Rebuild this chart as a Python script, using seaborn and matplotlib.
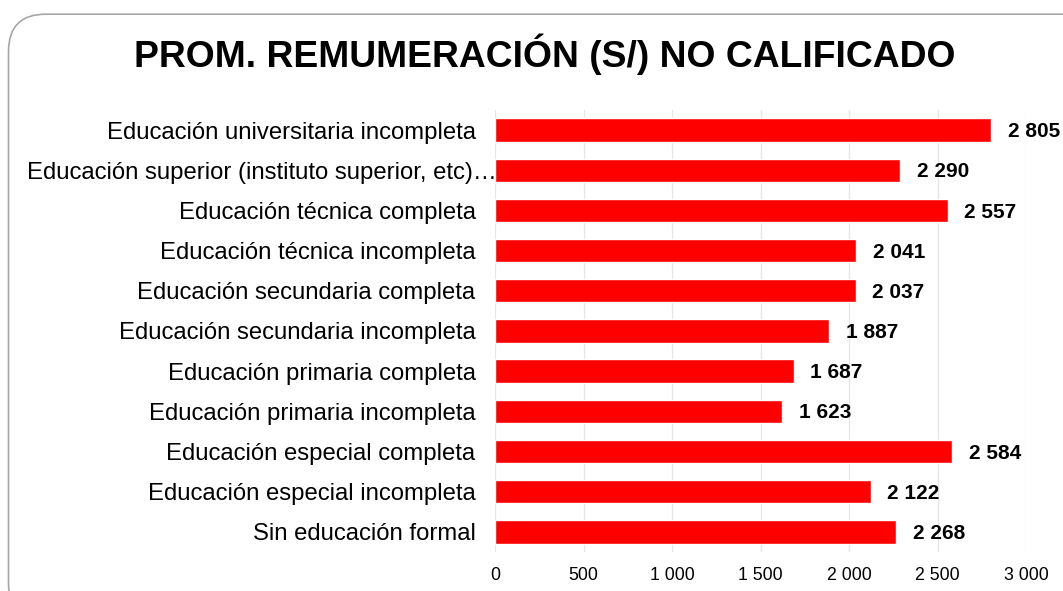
import matplotlib
matplotlib.use("Agg")
import matplotlib.pyplot as plt
from matplotlib.patches import FancyBboxPatch
from matplotlib.ticker import FuncFormatter
from matplotlib.transforms import ScaledTranslation
import seaborn as sns
import pandas as pd

categories = [
    "Educación universitaria incompleta",
    "Educación superior (instituto superior, etc)…",
    "Educación técnica completa",
    "Educación técnica incompleta",
    "Educación secundaria completa",
    "Educación secundaria incompleta",
    "Educación primaria completa",
    "Educación primaria incompleta",
    "Educación especial completa",
    "Educación especial incompleta",
    "Sin educación formal",
]
values = [2805, 2290, 2557, 2041, 2037, 1887, 1687, 1623, 2584, 2122, 2268]
x_ticks = [0, 500, 1000, 1500, 2000, 2500, 3000]
title = "PROM. REMUMERACIÓN (S/) NO CALIFICADO"

sns.set_theme(style="white")
plt.rcParams['font.family'] = ['Liberation Sans', 'DejaVu Sans']

def fmt(v):
    return f"{int(v):,}".replace(",", " ")

df = pd.DataFrame({"cat": categories, "val": values})

fig = plt.figure(figsize=(10.63, 5.91), dpi=100)
frame = FancyBboxPatch((0.008, -0.05), 1.05, 1.026,
                       boxstyle="round,pad=0,rounding_size=0.035",
                       transform=fig.transFigure, facecolor="none",
                       edgecolor="#a6a6a6", linewidth=1.2, zorder=-5,
                       mutation_aspect=1.8)
fig.patches.append(frame)

ax = fig.add_axes([0.4657, 0.066, 0.4995, 0.748])
ax.set_facecolor("none")
sns.barplot(data=df, x="val", y="cat", orient="h", color="#ff0000",
            saturation=1, width=0.58, ax=ax, zorder=3)

ax.set_xlim(0, 3000)
ax.set_xticks(x_ticks)
ax.xaxis.set_major_formatter(FuncFormatter(lambda v, p: fmt(v)))
ax.grid(axis="x", color="#e6e6e6", linewidth=1, zorder=0)
ax.set_axisbelow(True)
for s in ax.spines.values():
    s.set_visible(False)
ax.set_xlabel("")
ax.set_ylabel("")
ax.tick_params(axis="x", length=0, labelsize=12.8, pad=11, colors="black")
ax.tick_params(axis="y", length=0, labelsize=17.2, pad=14, colors="black")

# the truncated label sits further right (its ellipsis touches the bar)
for lbl in ax.get_yticklabels():
    if lbl.get_text().endswith("…"):
        lbl.set_transform(lbl.get_transform() +
                          ScaledTranslation(0.21, 0, fig.dpi_scale_trans))

for i, v in enumerate(values):
    ax.text(v + 95, i + 0.04, fmt(v), va="center", ha="left", fontsize=15,
            fontweight="bold", color="black", clip_on=False)

fig.text(0.512, 0.908, title, ha="center", va="center", fontsize=26.8,
         fontweight="bold", color="black")

fig.savefig("out.png", dpi=100)
